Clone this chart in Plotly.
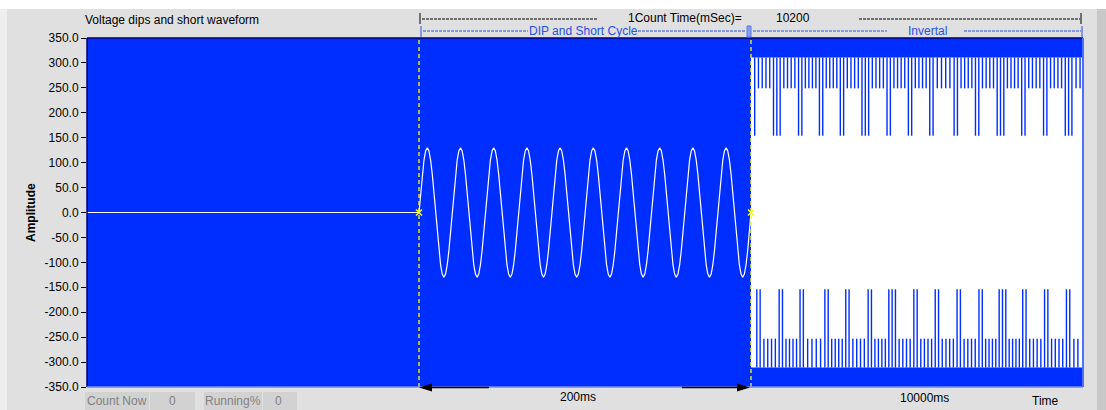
import plotly.graph_objects as go

# ---------------- data ----------------
y_tick_vals = [350, 300, 250, 200, 150, 100, 50, 0, -50, -100, -150, -200, -250, -300, -350]
y_tick_text = ["350.0", "300.0", "250.0", "200.0", "150.0", "100.0", "50.0", "0.0",
               "-50.0", "-100.0", "-150.0", "-200.0", "-250.0", "-300.0", "-350.0"]

# segment boundaries on the (segmented) time axis: pre-dip, dip (200 ms), interval (10000 ms)
segment_edges = [0.0, 1.0, 2.0, 3.0]
pre_level = [0.0, 0.0]

# one cycle of the dip waveform, repeated for 10 cycles
dip_cycle = [0.0, 40.2, 76.4, 105.2, 123.6, 130.0, 123.6, 105.2, 76.4, 40.2,
             0.0, -40.2, -76.4, -105.2, -123.6, -130.0, -123.6, -105.2, -76.4, -40.2]
dip_cycles = 10
dip_ms = 200
interval_ms = 10000

# interval section: envelope and the aliasing gaps seen in the trace
interval_amp = 311
top_long_ms = [111, 778, 1482, 2111, 2740, 3443, 4147, 4790, 5434, 6168, 6811, 7515, 8204, 8862, 9566]
top_long_n = [1, 3, 2, 2, 2, 3, 2, 2, 2, 2, 2, 3, 2, 2, 3]
bot_long_ms = [225, 898, 1527, 2275, 2904, 3578, 4251, 4955, 5599, 6257, 6916, 7575, 8234, 8892, 9551]
bot_long_n = [2, 2, 2, 2, 2, 2, 3, 2, 2, 2, 2, 3, 2, 2, 2]
top_long_level = 154
top_short_level = 249
bot_long_level = -154
bot_short_level = -253
shorts_per_gap = 4

count_now = 0
running_pct = 0
count_time_msec = 10200

# ---------------- helpers (layout) ----------------
W, H = 1106, 410
L, R, T, B = 87, 1083, 38, 387
PW, PH = R - L, B - T


def px(p):
    return (p - L) / PW


def py(p):
    return (B - p) / PH


BLUE = "rgb(0,46,255)"
TXT_BLUE = "rgb(40,80,235)"
FONT = "Liberation Sans, Arial, sans-serif"
PANEL = "rgb(224,224,224)"


def ms_to_x(ms):
    return segment_edges[2] + ms / interval_ms * (segment_edges[3] - segment_edges[2])


pitch_ms = 100  # spacing of adjacent gaps inside a group


def stripe_positions(centers, counts):
    longs, shorts = [], []
    ends = []
    for c, n in zip(centers, counts):
        xs = [c + (k - (n - 1) / 2) * pitch_ms for k in range(n)]
        longs.extend(xs)
        ends.append((xs[0], xs[-1]))
    for i in range(len(ends) - 1):
        a = ends[i][1]
        b = ends[i + 1][0]
        step = (b - a) / (shorts_per_gap + 1)
        shorts.extend([a + step * (k + 1) for k in range(shorts_per_gap)])
    last = ends[-1][1] + 125
    while last < interval_ms - 40:
        shorts.append(last)
        last += 120
    return longs, shorts


def seg_xy(xs_ms, y0, y1):
    X, Y = [], []
    for m in xs_ms:
        x = ms_to_x(m)
        X += [x, x, None]
        Y += [y0, y1, None]
    return X, Y


fig = go.Figure()

# interval envelope (white area covered by the dense trace)
fig.add_trace(go.Bar(x=[(segment_edges[2] + segment_edges[3]) / 2], y=[2 * interval_amp],
                     base=[-interval_amp], width=[segment_edges[3] - segment_edges[2]],
                     marker=dict(color="white", line=dict(width=0)), showlegend=False,
                     hoverinfo="skip"))

# gaps in the envelope
tl, ts = stripe_positions(top_long_ms, top_long_n)
bl, bs = stripe_positions(bot_long_ms, bot_long_n)
for xs, y0, y1 in [(tl, interval_amp, top_long_level), (ts, interval_amp, top_short_level),
                   (bl, -interval_amp, bot_long_level), (bs, -interval_amp, bot_short_level)]:
    X, Y = seg_xy(xs, y0, y1)
    fig.add_trace(go.Scatter(x=X, y=Y, mode="lines", line=dict(color=BLUE, width=1.4),
                             showlegend=False, hoverinfo="skip"))

# pre-dip flat line
fig.add_trace(go.Scatter(x=[segment_edges[0], segment_edges[1]], y=pre_level, mode="lines",
                         line=dict(color="white", width=1.2), showlegend=False))

# dip waveform
n_pts = dip_cycles * len(dip_cycle)
dip_y = dip_cycle * dip_cycles + [dip_cycle[0]]
dip_x = [segment_edges[1] + i / n_pts * (segment_edges[2] - segment_edges[1]) for i in range(n_pts + 1)]
fig.add_trace(go.Scatter(x=dip_x, y=dip_y, mode="lines", line=dict(color="white", width=1.2),
                         showlegend=False))

# cursor markers
fig.add_trace(go.Scatter(x=[segment_edges[1], segment_edges[2]], y=[0, 0], mode="markers",
                         marker=dict(symbol="x-thin-open", size=6, color="yellow",
                                     line=dict(color="yellow", width=1.5)),
                         showlegend=False))

shapes = []
# outer frame strips (outside the plot area)
shapes.append(dict(type="rect", xref="paper", yref="paper", layer="below",
                   x0=px(0), x1=px(1106), y0=py(9), y1=py(0),
                   fillcolor="white", line=dict(width=0)))
shapes.append(dict(type="rect", xref="paper", yref="paper", layer="below",
                   x0=px(0), x1=px(7), y0=py(410), y1=py(9),
                   fillcolor="rgb(238,238,238)", line=dict(width=0)))
shapes.append(dict(type="rect", xref="paper", yref="paper", layer="below",
                   x0=px(1097), x1=px(1106), y0=py(410), y1=py(9),
                   fillcolor="rgb(200,200,200)", line=dict(width=0)))

# yellow dashed cursor lines
for xe in segment_edges[1:3]:
    shapes.append(dict(type="line", xref="x", yref="paper", x0=xe, x1=xe, y0=0, y1=1,
                       line=dict(color="rgb(255,255,0)", width=1.3, dash="4px,3px")))

# plot border
shapes += [
    dict(type="line", xref="paper", yref="paper", x0=0, x1=1, y0=1, y1=1,
         line=dict(color="rgb(0,0,110)", width=1.5)),
    dict(type="line", xref="paper", yref="paper", x0=0, x1=0, y0=0, y1=1,
         line=dict(color="rgb(0,0,110)", width=1.5)),
    dict(type="line", xref="paper", yref="paper", x0=0, x1=1, y0=0, y1=0,
         line=dict(color="rgb(110,140,255)", width=1.5)),
    dict(type="line", xref="paper", yref="paper", x0=1, x1=1, y0=0, y1=1,
         line=dict(color="rgb(80,110,255)", width=2)),
]


def hline(x0, x1, y, color, dash="3px,1px", width=1):
    shapes.append(dict(type="line", xref="paper", yref="paper", x0=px(x0), x1=px(x1),
                       y0=py(y), y1=py(y), line=dict(color=color, width=width, dash=dash)))


def vline(x, y0, y1, color, width=1):
    shapes.append(dict(type="line", xref="paper", yref="paper", x0=px(x), x1=px(x),
                       y0=py(y0), y1=py(y1), line=dict(color=color, width=width)))


# header row 1 (black)
vline(420, 13, 24, "black")
hline(422, 597, 19, "black")
hline(859, 1080, 19, "black")
vline(1081, 13, 24, "black")

# header row 2 (blue)
vline(421, 26, 37, TXT_BLUE)
hline(423, 528, 31, TXT_BLUE)
hline(638, 746, 31, TXT_BLUE)
shapes.append(dict(type="rect", xref="paper", yref="paper", x0=px(747), x1=px(751),
                   y0=py(37), y1=py(26), fillcolor="rgb(130,160,240)",
                   line=dict(color="rgb(90,120,230)", width=1)))
hline(753, 887, 31, TXT_BLUE)
hline(964, 1081, 31, TXT_BLUE)
vline(1082, 26, 37, TXT_BLUE)

# 200ms dimension arrow
hline(430, 489, 387.5, "black", dash="solid", width=1.5)
hline(682, 740, 387.5, "black", dash="solid", width=1.5)
shapes.append(dict(type="path", xref="paper", yref="paper",
                   path=f"M {px(419)},{py(387.5)} L {px(432)},{py(383.5)} L {px(432)},{py(391.5)} Z",
                   fillcolor="black", line=dict(width=0)))
shapes.append(dict(type="path", xref="paper", yref="paper",
                   path=f"M {px(750)},{py(387.5)} L {px(737)},{py(383.5)} L {px(737)},{py(391.5)} Z",
                   fillcolor="black", line=dict(width=0)))

# indicator boxes
for x0, x1 in [(85, 149), (150, 195), (204, 262), (263, 297)]:
    shapes.append(dict(type="rect", xref="paper", yref="paper", x0=px(x0), x1=px(x1),
                       y0=py(410), y1=py(392), fillcolor="rgb(210,210,210)", line=dict(width=0)))

annotations = []


def text(t, x, y, color="black", size=12, xanchor="center", bold=False, angle=0):
    annotations.append(dict(text=f"<b>{t}</b>" if bold else t, x=px(x), y=py(y),
                            xref="paper", yref="paper", showarrow=False, xanchor=xanchor,
                            yanchor="middle", textangle=angle,
                            font=dict(family=FONT, size=size, color=color)))


text("Voltage dips and short waveform", 83, 20, xanchor="left")
text("1Count Time(mSec)=", 685, 18)
text(str(count_time_msec), 793, 18)
text("DIP and Short Cycle", 583.5, 31, color=TXT_BLUE)
text("Invertal", 927, 31, color=TXT_BLUE)
text("Amplitude", 31, 213, bold=True, angle=-90)
text(f"{dip_ms}ms", 578, 397)
text(f"{interval_ms}ms", 924, 398)
text("Time", 1045, 401)
text("Count Now", 117, 401, color="rgb(130,130,130)")
text(str(count_now), 172, 401, color="rgb(130,130,130)")
text("Running%", 233, 401, color="rgb(130,130,130)")
text(str(running_pct), 278, 401, color="rgb(130,130,130)")

fig.update_layout(
    width=W, height=H, autosize=False,
    margin=dict(l=L, r=W - R, t=T, b=H - B, pad=0),
    paper_bgcolor=PANEL, plot_bgcolor=BLUE,
    barmode="overlay", showlegend=False,
    shapes=shapes, annotations=annotations,
    xaxis=dict(range=[segment_edges[0], segment_edges[3]], visible=False, showgrid=False,
               zeroline=False, fixedrange=True),
    yaxis=dict(range=[-350, 350], tickvals=y_tick_vals, ticktext=y_tick_text,
               ticks="outside", ticklen=5, tickcolor="black", tickwidth=1,
               showgrid=False, zeroline=False, showline=False,
               tickfont=dict(family=FONT, size=12, color="black"), fixedrange=True),
    font=dict(family=FONT, size=12),
)

fig.write_html("out.html", config={"displayModeBar": False},
               post_script="document.body.style.margin='0';document.body.style.overflow='hidden';")
